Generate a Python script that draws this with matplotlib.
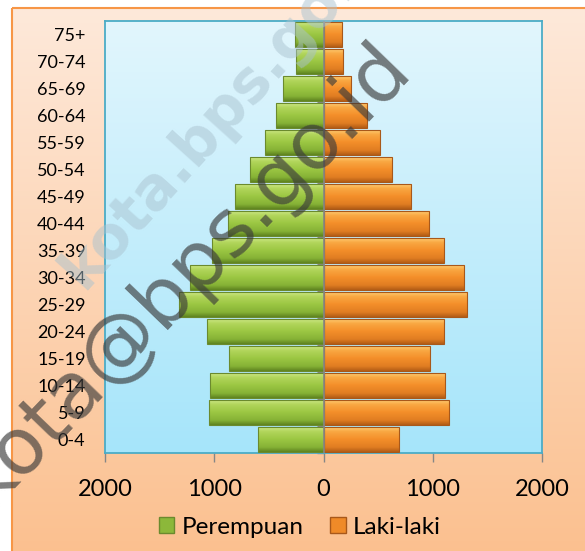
import numpy as np
import matplotlib.pyplot as plt
from matplotlib.patches import Rectangle, Patch
from matplotlib.colors import LinearSegmentedColormap

plt.rcParams['font.family'] = ['Lato', 'DejaVu Sans']

age_groups = ['0-4', '5-9', '10-14', '15-19', '20-24', '25-29', '30-34', '35-39',
              '40-44', '45-49', '50-54', '55-59', '60-64', '65-69', '70-74', '75+']
perempuan = [603, 1046, 1037, 869, 1067, 1321, 1226, 1021,
             878, 813, 670, 532, 437, 370, 251, 257]
laki_laki = [694, 1150, 1113, 975, 1104, 1318, 1287, 1104,
             966, 798, 630, 517, 401, 254, 180, 171]
x_ticks = [-2000, -1000, 0, 1000, 2000]
x_tick_labels = ['2000', '1000', '0', '1000', '2000']

W, H = 585, 551
fig = plt.figure(figsize=(W / 100, H / 100), dpi=100)
fig.patch.set_facecolor('white')

# outer chart area (peach gradient)
bg = fig.add_axes([0, 0, 1, 1], zorder=-1)
bg.axis('off')
peach = LinearSegmentedColormap.from_list('peach', ['#fee9da', '#fbc08f'])
bg.imshow(np.linspace(0, 1, 256).reshape(-1, 1), extent=[12, W + 5, H + 5, 8],
          cmap=peach, aspect='auto', origin='upper')
bg.add_patch(Rectangle((12, 8), W, H, fill=False, edgecolor='#f79646', lw=1.5))
bg.set_xlim(0, W)
bg.set_ylim(H, 0)

# plot area
ax = fig.add_axes([105 / W, 1 - 453 / H, (542 - 105) / W, (453 - 21) / H])
ax.patch.set_alpha(0)
blue = LinearSegmentedColormap.from_list('blue', ['#e2f6fd', '#a6e5fa'])
ax.imshow(np.linspace(0, 1, 256).reshape(-1, 1), extent=[-2000, 2000, 15.5, -0.5],
          cmap=blue, aspect='auto', origin='lower', zorder=0)

green_cm = LinearSegmentedColormap.from_list(
    'g', [(0, '#5f8420'), (0.18, '#86b236'), (0.5, '#9cc743'), (0.8, '#b2d65c'), (1, '#d2ea8e')])
orange_cm = LinearSegmentedColormap.from_list(
    'o', [(0, '#b35d16'), (0.18, '#e07d22'), (0.5, '#f48f2a'), (0.8, '#f9a843'), (1, '#ffd27a')])
grad = np.linspace(0, 1, 64).reshape(-1, 1)


def grad_bar(x0, width, y, h, cmap, edge):
    rect = Rectangle((x0, y - h / 2), width, h, facecolor='none', edgecolor=edge,
                     lw=0.8, zorder=3)
    ax.add_patch(rect)
    im = ax.imshow(grad, extent=[x0, x0 + width, y - h / 2, y + h / 2], cmap=cmap,
                   aspect='auto', origin='lower', zorder=2)
    im.set_clip_path(rect)


bar_h = 0.93
for i in range(len(age_groups)):
    grad_bar(-perempuan[i], perempuan[i], i, bar_h, green_cm, '#6b8a2e')
    grad_bar(0, laki_laki[i], i, bar_h, orange_cm, '#a8581a')

ax.set_xlim(-2000, 2000)
ax.set_ylim(-0.5, 15.5)
ax.set_xticks(x_ticks)
ax.set_xticklabels(x_tick_labels, fontsize=17)
ax.set_yticks(range(len(age_groups)))
ax.set_yticklabels(age_groups, fontsize=13)
ax.tick_params(axis='x', length=6.5, width=1, color='#868686', pad=12)
ax.tick_params(axis='y', length=0, pad=14)
for s in ax.spines.values():
    s.set_color('#4bacc6')
    s.set_linewidth(1.3)

# category axis at zero
ax.axvline(0, color='#868686', lw=1.2, zorder=4)
sec = ax.secondary_yaxis(0.5)
sec.set_yticks(np.arange(-0.5, 16, 1))
sec.tick_params(axis='y', length=5, width=1, color='#868686', direction='in',
                labelleft=False, labelright=False)
sec.spines['left'].set_visible(False)
sec.spines['right'].set_visible(False)

handles = [Patch(facecolor='#8cb83a', edgecolor='#6b8a2e', label='Perempuan'),
           Patch(facecolor='#ef8a28', edgecolor='#a8581a', label='Laki-laki')]
fig.legend(handles=handles, loc='center', bbox_to_anchor=(0.513, 1 - 527 / H),
           ncol=2, frameon=False, fontsize=17.5, handlelength=0.62, handleheight=0.62,
           handletextpad=0.3, columnspacing=1.1)

# watermarks
ov = fig.add_axes([0, 0, 1, 1], zorder=10)
ov.set_xlim(0, W)
ov.set_ylim(H, 0)
ov.axis('off')
ov.text(229, 104, 'kota.bps.go.id', fontsize=42, fontweight='bold', color='#a9c2cf',
        alpha=0.5, rotation=48, rotation_mode='anchor', ha='center', va='center',
        family='DejaVu Sans')
ov.text(185, 274, 'kota@bps.go.id', fontsize=57, color='#3a3a3a', alpha=0.65,
        rotation=46, rotation_mode='anchor', ha='center', va='center',
        family='DejaVu Sans')

fig.savefig('out.png', dpi=100)
